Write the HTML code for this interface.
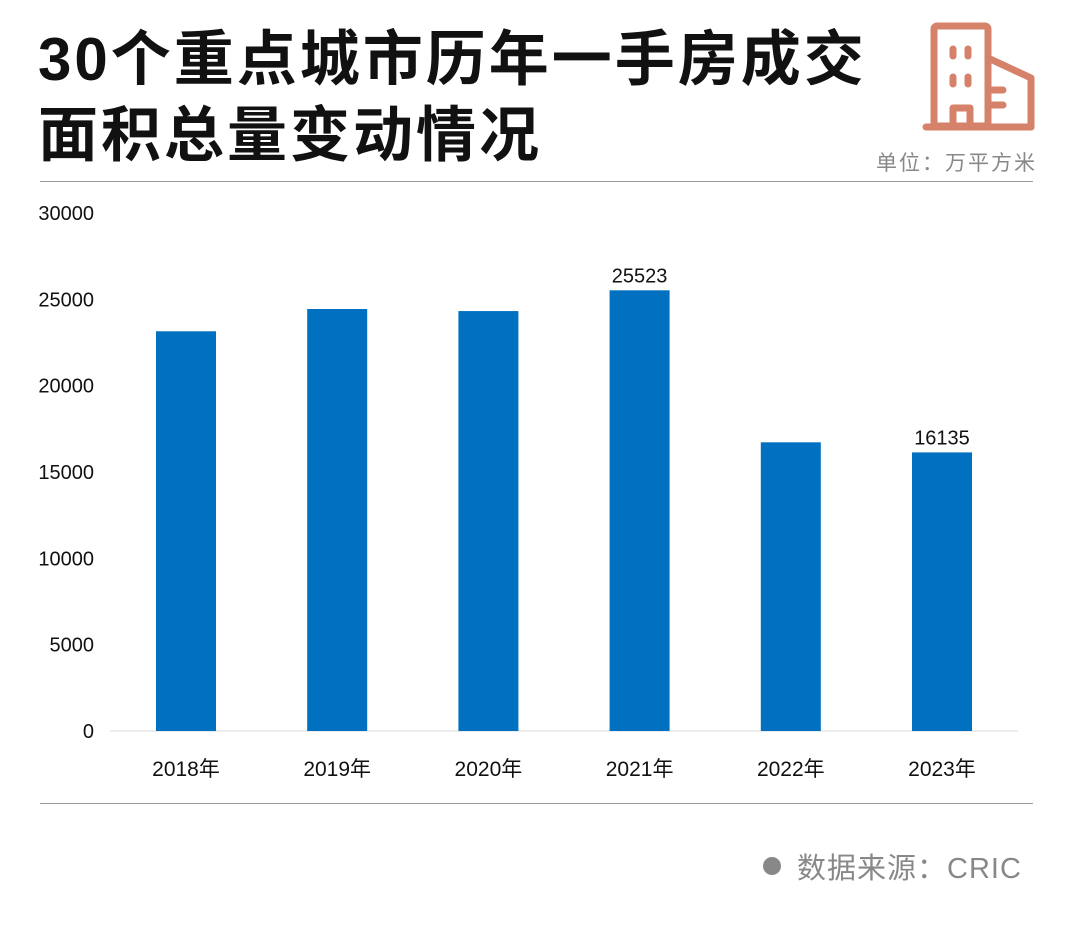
<!DOCTYPE html>
<html><head><meta charset="utf-8"><style>
body{margin:0;width:1080px;height:926px;background:#fff;position:relative;overflow:hidden;font-family:"Liberation Sans","Noto Sans CJK SC",sans-serif}
.t{position:absolute;left:38px;font-size:60px;font-weight:bold;color:#111;line-height:1;letter-spacing:3px}
</style></head><body>
<div class="t" style="top:30px">30个重点城市历年一手房成交</div>
<div class="t" style="top:106px">面积总量变动情况</div>
<svg style="position:absolute;left:0;top:0" width="1080" height="926">
<g stroke="#d6826a" stroke-width="7" fill="none" stroke-linecap="round" stroke-linejoin="round">
<rect x="934" y="26" width="54" height="100" rx="3"/>
<line x1="926" y1="127" x2="1031" y2="127"/>
<polyline points="988,58 1031,78 1031,127"/>
<line x1="953" y1="49" x2="953" y2="56"/><line x1="968" y1="49" x2="968" y2="56"/>
<line x1="953" y1="77" x2="953" y2="84"/><line x1="968" y1="77" x2="968" y2="84"/>
<polyline points="953,127 953,108 970,108 970,127"/>
<line x1="991" y1="90" x2="1003" y2="90"/><line x1="991" y1="105" x2="1003" y2="105"/>
</g></svg>
<div style="position:absolute;left:876px;top:147px;font-size:21px;letter-spacing:2px;color:#888">单位：万平方米</div>
<div style="position:absolute;left:40px;top:181px;width:993px;height:1px;background:#999"></div>
<div style="position:absolute;left:40px;top:803px;width:993px;height:1px;background:#999"></div>
<div style="position:absolute;left:763px;top:845px;font-size:29px;letter-spacing:1px;color:#888"><span style="display:inline-block;width:18px;height:18px;border-radius:50%;background:#888;margin-right:16px;vertical-align:3px"></span>数据来源：CRIC</div>
<svg id="chart" style="position:absolute;left:0;top:0" width="1080" height="926"></svg>
<script>
const categories=["2018年","2019年","2020年","2021年","2022年","2023年"];
const values=[23150,24440,24320,25523,16720,16135];
const labelShown=[false,false,false,true,false,true];
const yTicks=[0,5000,10000,15000,20000,25000,30000];
const NS="http://www.w3.org/2000/svg",svg=document.getElementById('chart');
const y0=731,y1=213,ymax=30000;
const y=v=>y0-(y0-y1)*v/ymax;
const x=i=>186+i*151.2;
function mk(t,a,txt){const e=document.createElementNS(NS,t);for(const k in a)e.setAttribute(k,a[k]);if(txt!=null)e.textContent=txt;svg.appendChild(e);return e;}
const ax=mk('line',{x1:110,x2:1018,y1:y0,y2:y0,stroke:'#d9d9d9','stroke-width':1});


yTicks.forEach(t=>{const e=mk('text',{x:94,y:y(t)+7,'text-anchor':'end','font-size':20,fill:'#111','font-family':'Liberation Sans, sans-serif'},t);

});
categories.forEach((c,i)=>{
const b=mk('rect',{x:x(i)-30,y:y(values[i]),width:60,height:y0-y(values[i]),fill:'#0070c0'});


const l=mk('text',{x:x(i),y:776,'text-anchor':'middle','font-size':21,fill:'#111','font-family':'Liberation Sans, Noto Sans CJK SC, sans-serif'},c);


if(labelShown[i]){const v=mk('text',{x:x(i),y:y(values[i])-8,'text-anchor':'middle','font-size':20,fill:'#111','font-family':'Liberation Sans, sans-serif'},values[i]);

}
});
</script>
</body></html>
